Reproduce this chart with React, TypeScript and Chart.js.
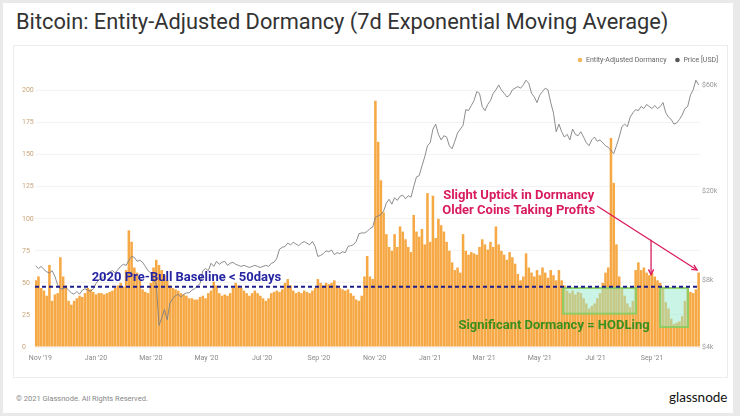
import React, { useEffect, useRef } from "react";
import { Chart, registerables } from "chart.js";

Chart.register(...registerables);

// ---------- data ----------
// one sample every STEP_DAYS days, first sample START_DAY days relative to 1 Nov 2019
const START_DAY = -5;
const STEP_DAYS = 3;

const seriesNames = ["Entity-Adjusted Dormancy", "Price [USD]"];

const dormancy = [
  52, 55, 46, 44, 40, 64, 36, 41, 42, 70,
  55, 48, 36, 33, 36, 38, 40, 39, 42, 46,
  45, 43, 41, 42, 42, 41, 42, 43, 44, 46,
  48, 50, 47, 60, 91, 82, 62, 58, 52, 45,
  43, 42, 50, 62, 68, 64, 60, 56, 52, 48,
  46, 45, 44, 42, 41, 40, 38, 38, 37, 37,
  39, 40, 38, 42, 44, 51, 48, 42, 40, 41,
  40, 42, 46, 50, 48, 46, 44, 42, 40, 42,
  44, 42, 40, 38, 36, 38, 42, 43, 44, 43,
  45, 50, 53, 48, 44, 42, 43, 42, 44, 43,
  42, 44, 46, 53, 50, 48, 50, 49, 50, 52,
  48, 46, 45, 44, 45, 42, 40, 37, 36, 40,
  55, 71, 55, 53, 192, 160, 130, 105, 88, 78,
  75, 88, 78, 94, 90, 84, 78, 74, 103, 90,
  86, 92, 80, 120, 82, 118, 85, 100, 95, 90,
  82, 75, 66, 60, 62, 58, 88, 75, 72, 74,
  73, 72, 78, 84, 80, 76, 82, 78, 94, 80,
  75, 72, 68, 74, 70, 65, 57, 52, 55, 73,
  62, 58, 55, 60, 56, 62, 58, 54, 60, 56,
  52, 60, 52, 48, 44, 42, 44, 41, 43, 42,
  38, 34, 30, 32, 34, 38, 42, 50, 58, 62,
  163, 128, 80, 55, 46, 40, 34, 31, 36, 60,
  66, 60, 62, 58, 56, 58, 55, 52, 50, 47,
  35, 30, 22, 18, 19, 20, 24, 36, 45, 43,
  42, 45, 58,
];

const priceUsd = [
  9250, 9000, 9200, 8900, 8700, 8600, 8800, 8300, 7600, 7300,
  7300, 7400, 7200, 7000, 6900, 7100, 6900, 7200, 7300, 7200,
  7100, 7300, 7700, 8000, 8100, 8300, 8500, 8700, 8800, 8600,
  8900, 9200, 9400, 9300, 9800, 10200, 10100, 9700, 9800, 9600,
  9200, 8800, 8600, 8000, 7700, 5000, 5400, 5900, 5300, 6300,
  6600, 6800, 6900, 6700, 6900, 7000, 7000, 7200, 7300, 7500,
  7700, 8800, 9000, 8800, 9500, 9200, 9700, 9400, 9600, 9700,
  9300, 9500, 9600, 9400, 9300, 9200, 9300, 9200, 9100, 9200,
  9300, 9200, 9100, 9200, 9300, 9200, 9500, 9600, 10000, 11000,
  11200, 11300, 11700, 11500, 11800, 11600, 11400, 11700, 11900, 11700,
  11500, 11900, 11300, 10200, 10300, 10500, 10800, 10700, 10900, 10400,
  10600, 10500, 10700, 10600, 11300, 11400, 11500, 11900, 12900, 13000,
  13000, 13200, 13600, 13800, 15300, 15500, 15700, 16300, 17700, 18400,
  17500, 18700, 18200, 19000, 19200, 18500, 19100, 18800, 21000, 23200,
  23500, 26000, 28500, 32000, 33000, 38000, 40000, 36000, 34000, 35500,
  35000, 32000, 31000, 33500, 36500, 38000, 39500, 46500, 46000, 48500,
  51000, 56000, 55000, 48000, 46000, 49000, 51000, 55000, 57000, 60000,
  57000, 55000, 53000, 54000, 57000, 58000, 59000, 58000, 60000, 63000,
  61000, 55000, 53000, 50000, 54000, 56000, 58000, 57000, 50000, 45000,
  37000, 40000, 37000, 35000, 36000, 34000, 38000, 36000, 35500, 37000,
  35000, 33000, 32000, 34000, 35000, 33500, 34000, 33000, 32000, 31500,
  30500, 29500, 32000, 35000, 39000, 40000, 39000, 43000, 45000, 46500,
  46000, 48000, 47000, 49000, 48000, 47000, 48500, 47000, 48000, 50000,
  45000, 43000, 42000, 40000, 40500, 42000, 44000, 47000, 48000, 54000,
  57000, 63000, 60000,
];

// x ticks: days after 1 Nov 2019
const xTickDays = [0, 61, 121, 182, 243, 305, 366, 427, 486, 547, 608, 670];
const xTickLabels = ["Nov '19", "Jan '20", "Mar '20", "May '20", "Jul '20", "Sep '20", "Nov '20", "Jan '21", "Mar '21", "May '21", "Jul '21", "Sep '21"];
const dormancyTicks = [0, 25, 50, 75, 100, 125, 150, 175, 200];
const priceTickValues = [4000, 8000, 20000, 60000];
const priceTickLabels = ["$4k", "$8k", "$20k", "$60k"];

// annotations (data units: day, dormancy)
const baselineValue = 47;
const baselineText = "2020 Pre-Bull Baseline < 50days";
const uptickLines = ["Slight Uptick in Dormancy", "Older Coins Taking Profits"];
const hodlText = "Significant Dormancy = HODLing";
const hodlBoxes = [
  { d0: 572.5, d1: 652.5, v0: 26, v1: 46 },
  { d0: 678.8, d1: 709.4, v0: 15.6, v1: 46 },
];

const ORANGE = "#F6A844";
const GREY = "#808080";

function drawArrow(ctx: CanvasRenderingContext2D, x0: number, y0: number, x1: number, y1: number) {
  ctx.beginPath();
  ctx.moveTo(x0, y0);
  ctx.lineTo(x1, y1);
  ctx.stroke();
  const a = Math.atan2(y1 - y0, x1 - x0);
  const L = 6;
  ctx.beginPath();
  ctx.moveTo(x1 - L * Math.cos(a - 0.45), y1 - L * Math.sin(a - 0.45));
  ctx.lineTo(x1, y1);
  ctx.lineTo(x1 - L * Math.cos(a + 0.45), y1 - L * Math.sin(a + 0.45));
  ctx.stroke();
}

const overlayPlugin = {
  id: "overlay",
  afterDatasetsDraw(chart: any) {
    const { ctx, chartArea: ca, scales } = chart;
    const X = (d: number) => scales.x.getPixelForValue(d);
    const Y = (v: number) => scales.y.getPixelForValue(v);
    ctx.save();
    // HODL boxes
    for (const b of hodlBoxes) {
      const l = X(b.d0), r = X(b.d1), t = Y(b.v1), bt = Y(b.v0);
      ctx.fillStyle = "rgba(150,236,205,0.5)";
      ctx.fillRect(l, t, r - l, bt - t);
      ctx.strokeStyle = "rgba(135,205,95,0.9)";
      ctx.lineWidth = 2;
      ctx.strokeRect(l, t, r - l, bt - t);
    }
    // baseline
    ctx.setLineDash([4, 3]);
    ctx.strokeStyle = "#1d1d8c";
    ctx.lineWidth = 2;
    ctx.beginPath();
    ctx.moveTo(ca.left, Y(baselineValue));
    ctx.lineTo(ca.right, Y(baselineValue));
    ctx.stroke();
    ctx.setLineDash([]);
    // texts
    ctx.font = "bold 13px Roboto";
    ctx.textAlign = "center";
    ctx.textBaseline = "middle";
    ctx.fillStyle = "#2525a3";
    ctx.fillText(baselineText, X(160), Y(54));
    ctx.fillStyle = "#d81b5e";
    ctx.fillText(uptickLines[0], X(524), Y(118));
    ctx.fillText(uptickLines[1], X(524), Y(106));
    ctx.fillStyle = "#3b8f1f";
    ctx.fillText(hodlText, X(562.6), Y(16.4));
    // arrows
    ctx.strokeStyle = "#d81b5e";
    ctx.lineWidth = 1.3;
    drawArrow(ctx, X(609.8), Y(110), X(719.3), Y(60));
    drawArrow(ctx, X(668.9), Y(83.6), X(668.9), Y(56.3));
    ctx.restore();
  },
  afterDraw(chart: any) {
    const { ctx } = chart;
    const ds = chart.data.datasets;
    ctx.save();
    ctx.font = "7px Roboto";
    ctx.textBaseline = "middle";
    ctx.textAlign = "left";
    const yy = 14;
    let right = chart.width - 9;
    const items = ds.map((d: any) => ({ label: d.label, color: d.legendColor }));
    const widths = items.map((it: any) => ctx.measureText(it.label).width);
    const positions: number[] = [];
    for (let i = items.length - 1; i >= 0; i--) {
      const start = right - widths[i];
      positions[i] = start;
      right = start - 6 - 11;
    }
    items.forEach((it: any, i: number) => {
      ctx.fillStyle = it.color;
      ctx.beginPath();
      ctx.arc(positions[i] - 6, yy, 2.3, 0, Math.PI * 2);
      ctx.fill();
      ctx.fillStyle = "#666";
      ctx.fillText(it.label, positions[i], yy);
    });
    ctx.restore();
  },
};

function ChartCanvas() {
  const ref = useRef<HTMLCanvasElement | null>(null);
  useEffect(() => {
    if (!ref.current) return;
    Chart.defaults.font.family = "Roboto";
    const dormPts = dormancy.map((v, i) => ({ x: START_DAY + i * STEP_DAYS, y: v }));
    const pricePts = priceUsd.map((v, i) => ({ x: START_DAY + i * STEP_DAYS, y: v }));
    const chart = new Chart(ref.current, {
      type: "bar",
      data: {
        datasets: [
          {
            type: "bar",
            label: seriesNames[0],
            data: dormPts,
            backgroundColor: ORANGE,
            borderWidth: 0,
            barPercentage: 1,
            categoryPercentage: 0.93,
            yAxisID: "y",
            order: 2,
            legendColor: "#F0B85A",
          } as any,
          {
            type: "line",
            label: seriesNames[1],
            data: pricePts,
            borderColor: GREY,
            borderWidth: 0.9,
            pointRadius: 0,
            tension: 0,
            yAxisID: "y2",
            order: 1,
            legendColor: "#555",
          } as any,
        ],
      },
      options: {
        animation: false,
        responsive: false,
        maintainAspectRatio: false,
        layout: { padding: { left: 8, right: 7, top: 24, bottom: 0 } },
        plugins: { legend: { display: false }, tooltip: { enabled: false } },
        scales: {
          x: {
            type: "linear",
            min: -5.8,
            max: 722.5,
            offset: false,
            grid: { display: false, drawTicks: false },
            border: { display: false },
            afterBuildTicks: (s: any) => {
              s.ticks = xTickDays.map((v) => ({ value: v }));
            },
            afterFit: (s: any) => {
              s.height = 30;
            },
            ticks: {
              autoSkip: false,
              maxRotation: 0,
              padding: 7,
              color: "#8a8a8a",
              font: { size: 7 },
              callback: (v: any) => {
                const k = xTickDays.indexOf(Number(v));
                return k >= 0 ? xTickLabels[k] : "";
              },
            },
          },
          y: {
            type: "linear",
            position: "left",
            min: 0,
            max: 216,
            grid: { color: "#f3f3f3", drawTicks: false, lineWidth: 1 },
            border: { display: false },
            afterBuildTicks: (s: any) => {
              s.ticks = dormancyTicks.map((v) => ({ value: v }));
            },
            afterFit: (s: any) => {
              s.width = 13;
            },
            ticks: {
              crossAlign: "far",
              padding: 0,
              color: "#c9a57a",
              font: { size: 7 },
            },
          },
          y2: {
            type: "logarithmic",
            position: "right",
            min: 4000,
            max: 70000,
            grid: { display: false, drawTicks: false },
            border: { display: false },
            afterBuildTicks: (s: any) => {
              s.ticks = priceTickValues.map((v) => ({ value: v }));
            },
            afterFit: (s: any) => {
              s.width = 20;
            },
            ticks: {
              padding: 2,
              color: "#999",
              font: { size: 7 },
              callback: (v: any) => {
                const k = priceTickValues.indexOf(Number(v));
                return k >= 0 ? priceTickLabels[k] : "";
              },
            },
          },
        },
      } as any,
      plugins: [overlayPlugin],
    });
    return () => chart.destroy();
  }, []);
  return (
    <canvas
      ref={ref}
      width={713}
      height={331}
      style={{ position: "absolute", left: 14, top: 46, width: 713, height: 331 }}
    />
  );
}

export default function App() {
  return (
    <div style={{ position: "fixed", left: 0, top: 0, width: 740, height: 416, background: "#e9e9e9", overflow: "hidden" }}>
      <div style={{ position: "absolute", left: 3, top: 3, width: 730, height: 410, background: "#fff" }} />
      <div
        style={{
          position: "absolute",
          left: 16,
          top: 9,
          fontFamily: "Roboto",
          fontSize: 21.8,
          color: "#333",
          whiteSpace: "nowrap",
          lineHeight: "26px",
        }}
      >
        Bitcoin: Entity-Adjusted Dormancy (7d Exponential Moving Average)
      </div>
      <div
        style={{
          position: "absolute",
          left: 13,
          top: 45,
          width: 715,
          height: 333,
          border: "1px solid #ececec",
          boxSizing: "border-box",
        }}
      />
      <ChartCanvas />
      <div
        style={{
          position: "absolute",
          left: 16,
          top: 394,
          fontFamily: "Roboto",
          fontSize: 7.5,
          color: "#888",
          whiteSpace: "nowrap",
        }}
      >
        © 2021 Glassnode. All Rights Reserved.
      </div>
      <div
        style={{
          position: "absolute",
          left: 669,
          top: 389,
          fontFamily: "Lato",
          fontSize: 13.5,
          color: "#111",
          whiteSpace: "nowrap",
        }}
      >
        glassnode
      </div>
    </div>
  );
}
